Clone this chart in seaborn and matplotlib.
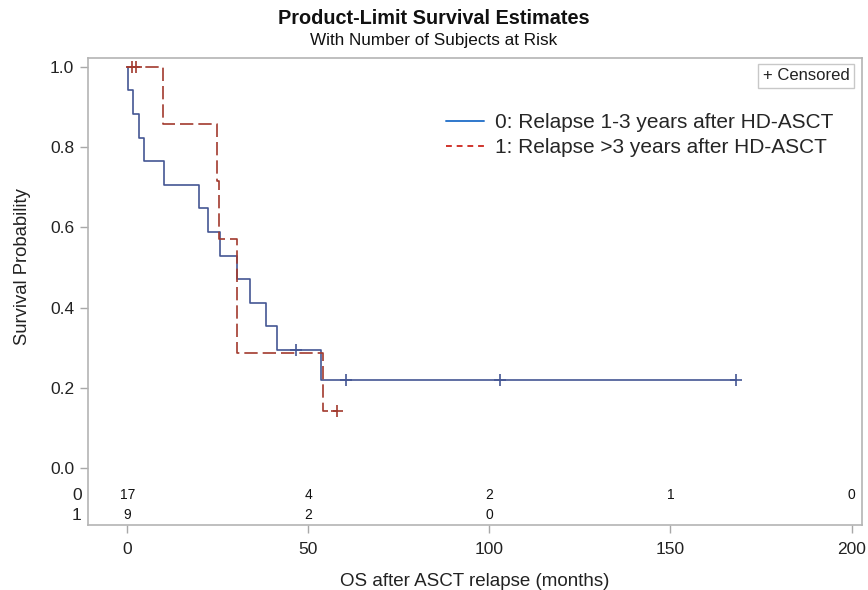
import numpy as np
import pandas as pd
import matplotlib
matplotlib.use("Agg")
import matplotlib.pyplot as plt
import matplotlib.transforms as mtransforms
from matplotlib.lines import Line2D
import seaborn as sns

# ---- data ----
g0_time = [0.2, 1.6, 3.3, 4.6, 10.0, 19.8, 22.2, 25.7, 30.2, 33.8, 38.4, 41.2, 46.5, 53.4, 60.3, 102.9, 168.1]
g0_event = [1, 1, 1, 1, 1, 1, 1, 1, 1, 1, 1, 1, 0, 1, 0, 0, 0]
g1_time = [1.2, 2.3, 9.9, 24.6, 25.2, 30.2, 30.2, 54.1, 57.8]
g1_event = [0, 0, 1, 1, 1, 1, 1, 1, 0]

group_labels = ["0: Relapse 1-3 years after HD-ASCT", "1: Relapse >3 years after HD-ASCT"]
risk_times = [0, 50, 100, 150, 200]
risk_g0 = ["17", "4", "2", "1", "0"]
risk_g1 = ["9", "2", "0", "", ""]
x_ticks = [0, 50, 100, 150, 200]
y_ticks = [0.0, 0.2, 0.4, 0.6, 0.8, 1.0]


def km(times, events):
    t = np.array(times, float)
    e = np.array(events, int)
    order = np.argsort(t, kind="stable")
    t, e = t[order], e[order]
    xs, ys = [0.0], [1.0]
    cens_x, cens_y = [], []
    s = 1.0
    n = len(t)
    for ut in np.unique(t):
        m = t == ut
        d = e[m].sum()
        c = (1 - e[m]).sum()
        if d > 0:
            s = s * (n - d) / n
            xs.append(ut)
            ys.append(s)
        if c > 0:
            cens_x.append(ut)
            cens_y.append(s)
        n -= m.sum()
    xs.append(t.max())
    ys.append(s)
    return xs, ys, cens_x, cens_y


sns.set_theme(style="white")
plt.rcParams["font.family"] = ["Liberation Sans", "DejaVu Sans"]

fig = plt.figure(figsize=(8.68, 5.90), dpi=100)
L, R, T, B = 88, 862, 58, 525
ax = fig.add_axes([L / 868, 1 - B / 590, (R - L) / 868, (B - T) / 590])

colors = ["#445694", "#A23A2E"]
styles = ["-", (0, (8, 3))]
for times, events, col, ls in [(g0_time, g0_event, colors[0], styles[0]),
                                (g1_time, g1_event, colors[1], styles[1])]:
    xs, ys, cx, cy = km(times, events)
    df = pd.DataFrame({"t": xs, "s": ys})
    sns.lineplot(data=df, x="t", y="s", ax=ax, estimator=None, sort=False,
                 drawstyle="steps-post", color=col, linestyle=ls, lw=1.2)
    cdf = pd.DataFrame({"t": cx, "s": cy})
    sns.scatterplot(data=cdf, x="t", y="s", ax=ax, marker="+", s=80,
                    color=col, linewidth=1.2, zorder=5)

ax.set_xlim(-10.9, 202.9)
ax.set_ylim(-0.142, 1.022)
ax.set_xticks(x_ticks)
ax.set_yticks(y_ticks)
ax.set_yticklabels([f"{v:.1f}" for v in y_ticks])
ax.tick_params(axis="both", direction="out", length=6, width=1, color="#a8a8a8",
               labelsize=12.5, labelcolor="#222222", left=True, bottom=True)
ax.tick_params(axis="x", pad=6)
ax.tick_params(axis="y", pad=4)
for sp in ax.spines.values():
    sp.set_color("#b4b4b4")
    sp.set_linewidth(1.2)

ax.set_xlabel("OS after ASCT relapse (months)", fontsize=13.5, color="#222222", labelpad=12)
ax.set_ylabel("Survival Probability", fontsize=13.3, color="#222222")
ax.yaxis.set_label_coords(-0.073, (B - 267) / (B - T))

# at-risk table
trans = mtransforms.blended_transform_factory(ax.transAxes, ax.transData)
row_y = [-0.068, -0.118]
for ry, vals, lab in [(row_y[0], risk_g0, "0"), (row_y[1], risk_g1, "1")]:
    for xt, v in zip(risk_times, vals):
        if v:
            ax.text(xt, ry, v, ha="center", va="center", fontsize=10, color="#111111")
    ax.text(-0.008, ry, lab, transform=trans, ha="right", va="center", fontsize=12.5, color="#222222")

# legend
handles = [Line2D([], [], color="#2f78cc", lw=1.4, linestyle="-"),
           Line2D([], [], color="#d0342c", lw=1.4, linestyle=(0, (3, 2.5)))]
leg = ax.legend(handles, group_labels, loc="upper left", bbox_to_anchor=(0.452, 0.9),
                frameon=False, fontsize=15, handlelength=1.8, handletextpad=0.55,
                labelspacing=0.3, borderaxespad=0)

ax.text(0.984, 0.978, "+ Censored", transform=ax.transAxes, ha="right", va="top",
        fontsize=12, color="#222222",
        bbox=dict(boxstyle="square,pad=0.28", fc="white", ec="#c8c8c8", lw=1))

fig.text(0.5, 1 - 19 / 590, "Product-Limit Survival Estimates", ha="center", va="center",
         fontsize=14.3, fontweight="bold", color="#111111")
fig.text(0.5, 1 - 41 / 590, "With Number of Subjects at Risk", ha="center", va="center",
         fontsize=12.3, color="#111111")

fig.savefig("out.png", dpi=100)
